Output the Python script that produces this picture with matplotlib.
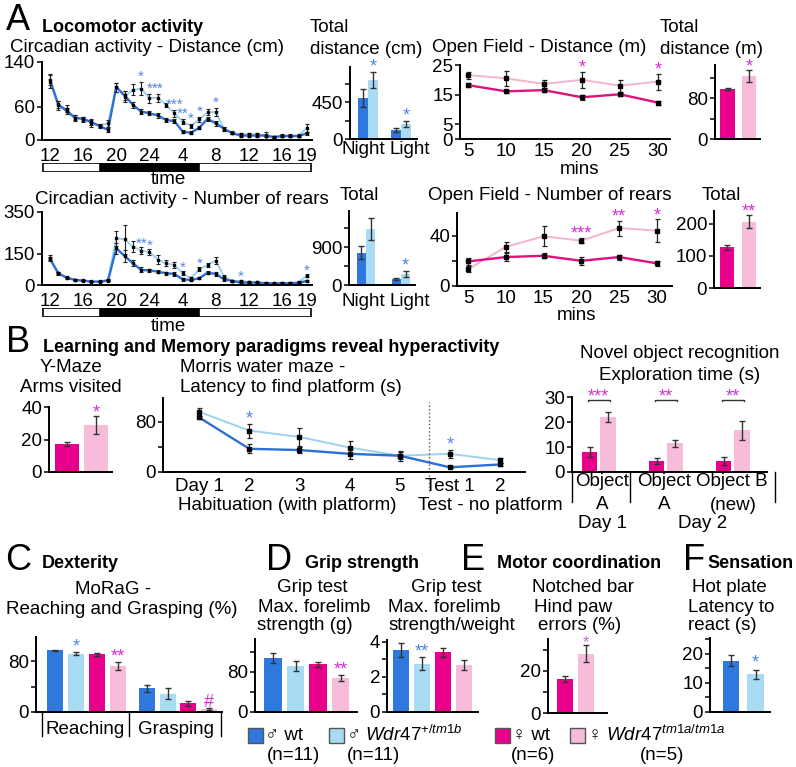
import numpy as np
import matplotlib.pyplot as plt
from matplotlib.patches import Rectangle
from matplotlib.lines import Line2D
from matplotlib.transforms import blended_transform_factory

plt.rcParams['font.family'] = ['Liberation Sans', 'DejaVu Sans']
plt.rcParams['font.size'] = 13.5
plt.rcParams['mathtext.fontset'] = 'custom'
plt.rcParams['mathtext.it'] = 'Liberation Sans:italic'
plt.rcParams['mathtext.rm'] = 'Liberation Sans'

# colours
BLUE, LBLUE = '#2f78dd', '#a9dcf4'
PINK, LPINK = '#e8008a', '#f7bcd9'
LINE_BLUE, LINE_LBLUE = '#2c6fd6', '#9cd2f0'
LINE_PINK, LINE_LPINK = '#e0107f', '#f5b3d3'
SBLUE, SPINK = '#4f86e6', '#d62fd6'

# ---- data: circadian activity (hour 12 .. 19 next day) ----
hours = np.arange(12, 44)
hour_ticks = [12, 16, 20, 24, 28, 32, 36, 40, 43]
hour_labels = ['12', '16', '20', '24', '4', '8', '12', '16', '19']

dist_wt = [108, 64, 52, 40, 38, 32, 25, 18, 95, 80, 63, 51, 48, 44, 36, 34,
           15, 13, 22, 38, 30, 20, 12, 8, 8, 8, 8, 5, 7, 7, 7, 12]
dist_mut = [105, 62, 56, 40, 37, 30, 26, 30, 95, 78, 90, 92, 75, 76, 63, 48,
            33, 25, 37, 50, 50, 20, 13, 10, 10, 10, 8, 6, 8, 8, 8, 22]
dist_wt_err = [10, 6, 5, 4, 4, 5, 3, 3, 8, 8, 6, 5, 4, 4, 4, 4,
               3, 3, 3, 4, 4, 3, 2, 2, 2, 2, 2, 2, 2, 2, 2, 3]
dist_mut_err = [12, 8, 6, 5, 5, 6, 3, 6, 8, 10, 10, 12, 8, 7, 4, 6,
                5, 4, 5, 5, 7, 4, 3, 2, 2, 2, 6, 2, 2, 2, 2, 7]
dist_stars = {23: '*', 24: '*', 25: '**', 27: '***', 28: '**', 29: '*', 30: '*', 32: '*'}

rears_wt = [125, 56, 35, 24, 21, 16, 16, 21, 176, 139, 104, 72, 70, 64, 56, 53,
            27, 24, 32, 59, 53, 27, 19, 12, 12, 12, 8, 8, 8, 8, 10, 20]
rears_mut = [130, 58, 36, 25, 22, 17, 17, 25, 224, 219, 184, 165, 158, 122, 104, 96,
             56, 32, 75, 96, 117, 40, 19, 19, 14, 12, 10, 8, 10, 10, 14, 45]
rears_wt_err = [10, 6, 4, 3, 3, 3, 3, 4, 25, 30, 15, 12, 8, 8, 8, 8,
                6, 4, 4, 8, 8, 6, 4, 3, 3, 3, 2, 2, 2, 2, 2, 4]
rears_mut_err = [12, 6, 4, 3, 3, 3, 3, 5, 35, 70, 25, 15, 15, 20, 15, 15,
                 10, 6, 10, 10, 15, 8, 4, 4, 3, 3, 2, 2, 2, 2, 3, 8]
rears_stars = {23: '**', 24: '*', 28: '*', 30: '*', 35: '*', 43: '*'}

periods = ['Night', 'Light']
tot_dist_wt, tot_dist_mut = [499, 110], [718, 182]
tot_dist_wt_err, tot_dist_mut_err = [115, 20], [100, 35]
tot_dist_stars = ['*', '*']
tot_rears_wt, tot_rears_mut = [765, 142], [1327, 260]
tot_rears_wt_err, tot_rears_mut_err = [150, 25], [260, 80]
tot_rears_stars = ['', '*']

# ---- open field (females) ----
of_mins = [5, 10, 15, 20, 25, 30]
of_dist_wt = [18.2, 16.1, 16.5, 14.1, 15.1, 12.3]
of_dist_wt_err = [0.8, 0.6, 0.6, 0.8, 0.6, 0.7]
of_dist_mut = [21.6, 20.5, 18.6, 20.0, 18.0, 19.4]
of_dist_mut_err = [1.2, 2.5, 1.5, 2.7, 2.0, 2.7]
of_dist_stars = {20: '*', 30: '*'}
of_rears_wt = [19.5, 23, 24, 20, 23, 18]
of_rears_wt_err = [2.5, 3, 2, 3, 2, 2]
of_rears_mut = [13.3, 31, 39.5, 36, 46, 44]
of_rears_mut_err = [2.5, 4, 8, 2, 6, 9]
of_rears_stars = {20: '***', 25: '**', 30: '*'}
of_tot_dist, of_tot_dist_err = [98, 123], [2, 12]
of_tot_rears, of_tot_rears_err = [127, 207], [8, 20]

# ---- learning and memory ----
ymaze, ymaze_err = [17.2, 29], [1.5, 5.5]
mwm_days = [1, 2, 3, 4, 5, 6, 7]
mwm_labels = ['Day 1', '2', '3', '4', '5', 'Test 1', '2']
mwm_wt = [87, 37, 35, 29, 26, 7.5, 12]
mwm_wt_err = [3, 7, 5, 8, 6, 1.5, 3]
mwm_mut = [96, 66, 56, 39, 26, 29, 19]
mwm_mut_err = [6, 11, 14, 10, 8, 6, 4]
mwm_stars = {2: '*', 6: '*'}
nor_wt, nor_wt_err = [8.1, 4.4, 4.4], [2, 1.3, 1.5]
nor_mut, nor_mut_err = [21.9, 11.5, 16.8], [2, 1.3, 3.8]
nor_stars = ['***', '**', '**']

# ---- dexterity / strength / coordination / sensation ----
# order: male wt, male mutant, female wt, female mutant
geno_colors = [BLUE, LBLUE, PINK, LPINK]
morag_groups = ['Reaching', 'Grasping']
morag = [[97, 92, 90.5, 72], [37, 29, 13.6, 4.5]]
morag_err = [[1, 2, 2, 6], [5, 8, 4, 2]]
morag_stars = [['', '*', '', '**'], ['', '', '', '#']]
grip_g, grip_g_err = [109, 92, 95.4, 68.7], [10, 10, 5, 6]
grip_g_stars = ['', '', '', '**']
grip_w, grip_w_err = [3.55, 2.76, 3.4, 2.67], [0.4, 0.35, 0.25, 0.3]
grip_w_stars = ['', '**', '', '']
notch, notch_err = [16, 28], [1.5, 4]
hot, hot_err = [17.7, 13], [2, 1.5]

W, H = 796, 767
fig = plt.figure(figsize=(W / 100, H / 100), dpi=100)


def box(l, t, r, b):
    ax = fig.add_axes([l / W, 1 - b / H, (r - l) / W, (b - t) / H])
    ax.patch.set_alpha(0)
    for s in ['top', 'right']:
        ax.spines[s].set_visible(False)
    for s in ['left', 'bottom']:
        ax.spines[s].set_linewidth(1.4)
    ax.tick_params(length=3.5, width=1.1, pad=1.5)
    return ax


def txt(x, y, s, **kw):
    kw.setdefault('va', 'center')
    fig.text(x / W, 1 - y / H, s, **kw)


def vline(x, y1, y2):
    fig.add_artist(Line2D([x / W, x / W], [1 - y1 / H, 1 - y2 / H], color='k', lw=1))


EKW = dict(ecolor='#333333', elinewidth=1, capsize=2, capthick=1)


def yt(ax, ticks, labels, lim):
    ax.set_ylim(0, lim)
    ax.set_yticks(ticks)
    ax.set_yticklabels(labels)


def line_panel(ax, x, wt, wt_err, mut, mut_err, cw, cm, ms=2.5, elw=0.9, cap=1.8):
    ax.plot(x, mut, color=cm, lw=1.4, zorder=2)
    ax.plot(x, wt, color=cw, lw=1.7, zorder=2)
    for y, e in ((mut, mut_err), (wt, wt_err)):
        ax.errorbar(x, y, yerr=e, fmt='s', ms=ms, color='k', ecolor='#222222',
                    elinewidth=elw, capsize=cap, capthick=elw, zorder=3)


def stars_on(ax, xs, top, err, marks, color, off, fs=13):
    for xi, t, e, m in zip(xs, top, err, marks):
        if m:
            ax.text(xi, t + e + off, m, ha='center', va='center', color=color,
                    fontsize=fs, clip_on=False)


def daybar(l, t, r, b, xlim):
    ax = fig.add_axes([l / W, 1 - b / H, (r - l) / W, (b - t) / H])
    ax.set_xlim(xlim)
    ax.set_ylim(0, 1)
    ax.axis('off')
    ax.add_patch(Rectangle((xlim[0] + 0.1, 0.05), xlim[1] - xlim[0] - 0.2, 0.9,
                           facecolor='white', edgecolor='k', lw=1.2))
    ax.add_patch(Rectangle((18, 0.05), 12, 0.9, facecolor='k', edgecolor='k', lw=1.2))


def circ_panel(l, t, r, b, wt, wt_err, mut, mut_err, stars, ticks, lim, soff):
    ax = box(l, t, r, b)
    xlim = (11.04, 43.6)
    ax.set_xlim(xlim)
    line_panel(ax, hours, wt, wt_err, mut, mut_err, LINE_BLUE, LINE_LBLUE,
               ms=1.8, elw=0.8, cap=1.5)
    yt(ax, ticks, [str(v) for v in ticks], lim)
    ax.set_xticks(hour_ticks)
    ax.set_xticklabels(hour_labels)
    ax.tick_params(axis='x', length=0, pad=6)
    idx = [list(hours).index(h) for h in stars]
    stars_on(ax, list(stars), [mut[i] for i in idx], [mut_err[i] for i in idx],
             list(stars.values()), SBLUE, soff, fs=11)
    return xlim


def pair_bars(ax, x, wt, wt_err, mut, mut_err, cw, cm, w):
    x = np.asarray(x, float)
    ax.bar(x - w / 2, wt, w, color=cw, yerr=wt_err, error_kw=EKW)
    ax.bar(x + w / 2, mut, w, color=cm, yerr=mut_err, error_kw=EKW)


# ================= A =================
txt(6, 21, 'A', fontsize=26)
txt(42, 28, 'Locomotor activity', fontweight='bold', fontsize=13)
txt(10, 47, 'Circadian activity - Distance (cm)')
xl = circ_panel(42, 62, 312, 140, dist_wt, dist_wt_err, dist_mut, dist_mut_err,
                dist_stars, [0, 60, 140], 140, 9)
daybar(42, 163, 312, 172, xl)
txt(168, 179, 'time', ha='center')

txt(310, 28, 'Total')
txt(310, 50, 'distance (cm)')
ax = box(350, 67, 417, 139)
pair_bars(ax, [0, 1], tot_dist_wt, tot_dist_wt_err, tot_dist_mut, tot_dist_mut_err, BLUE, LBLUE, 0.29)
ax.set_xlim(-0.545, 1.485)
yt(ax, [0, 225, 450, 675], ['0', '', '450', ''], 876)
ax.set_xticks([])
stars_on(ax, [0.145, 1.145], tot_dist_mut, tot_dist_mut_err, tot_dist_stars, SBLUE, 60)
txt(363, 150, periods[0], ha='center')
txt(410, 150, periods[1], ha='center')

txt(432, 48, 'Open Field - Distance (m)')
ax = box(460, 65, 670, 139)
line_panel(ax, of_mins, of_dist_wt, of_dist_wt_err, of_dist_mut, of_dist_mut_err, LINE_PINK, LINE_LPINK)
ax.set_xlim(3.95, 31.6)
yt(ax, [0, 5, 15, 25], ['0', '5', '15', '25'], 25)
ax.set_xticks(of_mins)
ax.tick_params(axis='x', length=0, pad=3)
stars_on(ax, list(of_dist_stars), [of_dist_mut[of_mins.index(m)] for m in of_dist_stars],
         [of_dist_mut_err[of_mins.index(m)] for m in of_dist_stars], list(of_dist_stars.values()), SPINK, 1.3)
txt(580, 170, 'mins', ha='center')

txt(660, 27, 'Total')
txt(660, 50, 'distance (m)')
ax = box(715, 65, 760, 139)
ax.bar([0, 1], of_tot_dist, 0.64, color=[PINK, LPINK], yerr=of_tot_dist_err, error_kw=EKW)
ax.set_xlim(-0.57, 1.48)
yt(ax, [0, 40, 80, 120], ['0', '', '80', ''], 145)
ax.set_xticks([])
stars_on(ax, [1], [of_tot_dist[1]], [of_tot_dist_err[1]], ['*'], SPINK, 7)

# second row
txt(35, 199, 'Circadian activity - Number of rears')
xl = circ_panel(42, 212, 312, 285, rears_wt, rears_wt_err, rears_mut, rears_mut_err,
                rears_stars, [0, 150, 350], 350, 16)
daybar(42, 308, 312, 317, xl)
txt(168, 327, 'time', ha='center')

txt(340, 196, 'Total')
ax = box(349, 211, 415, 285)
pair_bars(ax, [0, 1], tot_rears_wt, tot_rears_wt_err, tot_rears_mut, tot_rears_mut_err, BLUE, LBLUE, 0.26)
ax.set_xlim(-0.486, 1.4)
yt(ax, [0, 450, 900, 1350], ['0', '', '900', ''], 1753)
ax.set_xticks([])
stars_on(ax, [0.13, 1.13], tot_rears_mut, tot_rears_mut_err, tot_rears_stars, SBLUE, 120)
txt(363, 302, periods[0], ha='center')
txt(410, 302, periods[1], ha='center')

txt(428, 196, 'Open Field - Number of rears')
ax = box(457, 213, 672, 286)
line_panel(ax, of_mins, of_rears_wt, of_rears_wt_err, of_rears_mut, of_rears_mut_err, LINE_PINK, LINE_LPINK)
ax.set_xlim(3.55, 32)
yt(ax, [0, 20, 40], ['0', '', '40'], 58)
ax.set_xticks(of_mins)
ax.tick_params(axis='x', length=0, pad=3)
stars_on(ax, list(of_rears_stars), [of_rears_mut[of_mins.index(m)] for m in of_rears_stars],
         [of_rears_mut_err[of_mins.index(m)] for m in of_rears_stars], list(of_rears_stars.values()), SPINK, 3)
txt(577, 316, 'mins', ha='center')

txt(702, 196, 'Total')
ax = box(714, 211, 760, 288)
ax.bar([0, 1], of_tot_rears, 0.64, color=[PINK, LPINK], yerr=of_tot_rears_err, error_kw=EKW)
ax.set_xlim(-0.57, 1.48)
yt(ax, [0, 100, 200], ['0', '100', '200'], 240)
ax.set_xticks([])
stars_on(ax, [1], [of_tot_rears[1]], [of_tot_rears_err[1]], ['**'], SPINK, 10)

# ================= B =================
txt(6, 342, 'B', fontsize=26)
txt(43, 347, 'Learning and Memory paradigms reveal hyperactivity', fontweight='bold', fontsize=13)

txt(71, 368, 'Y-Maze', ha='center')
txt(71, 388, 'Arms visited', ha='center')
ax = box(49, 407, 112, 472)
ax.bar([0, 1], ymaze, 0.8, color=[PINK, LPINK], yerr=ymaze_err, error_kw=EKW)
ax.set_xlim(-0.62, 1.55)
yt(ax, [0, 20, 40], ['0', '20', '40'], 40)
ax.set_xticks([])
stars_on(ax, [1], [ymaze[1]], [ymaze_err[1]], ['*'], SPINK, 2)

txt(180, 368, 'Morris water maze -')
txt(180, 388, 'Latency to find platform (s)')
ax = box(163, 398, 525, 472)
line_panel(ax, mwm_days, mwm_wt, mwm_wt_err, mwm_mut, mwm_mut_err, LINE_BLUE, LINE_LBLUE)
ax.set_xlim(0.28, 7.5)
yt(ax, [0, 40, 80], ['0', '', '80'], 118)
ax.set_xticks(mwm_days)
ax.set_xticklabels(mwm_labels)
ax.tick_params(axis='x', length=0, pad=4)
tr = blended_transform_factory(ax.transData, ax.transAxes)
ax.plot([5.58, 5.58], [-0.25, 0.95], transform=tr, ls=':', color='#555555', lw=1, clip_on=False)
stars_on(ax, list(mwm_stars), [mwm_mut[d - 1] for d in mwm_stars],
         [mwm_mut_err[d - 1] for d in mwm_stars], list(mwm_stars.values()), SBLUE, 8)
txt(287, 505, 'Habituation (with platform)', ha='center')
txt(490, 505, 'Test - no platform', ha='center')

txt(680, 353, 'Novel object recognition', ha='center')
txt(680, 376, 'Exploration time (s)', ha='center')
ax = box(572, 397, 767, 472)
xg = np.arange(3)
ax.bar(xg - 0.138, nor_wt, 0.23, color=PINK, yerr=nor_wt_err, error_kw=EKW)
ax.bar(xg + 0.138, nor_mut, 0.23, color=LPINK, yerr=nor_mut_err, error_kw=EKW)
ax.set_xlim(-0.40, 2.51)
yt(ax, [0, 10, 20, 30], ['0', '10', '20', '30'], 30)
ax.set_xticks([])
for g, s in zip(xg, nor_stars):
    ax.plot([g - 0.16, g - 0.16, g + 0.16, g + 0.16], [28.3, 29, 29, 28.3], color='#333333',
            lw=1, clip_on=False)
    ax.text(g, 30.2, s, ha='center', va='center', color=SPINK, fontsize=13, clip_on=False)
for xv in (572, 630, 775):
    vline(xv, 472, 502)
txt(602, 482, 'Object', ha='center')
txt(602, 505, 'A', ha='center')
txt(664, 482, 'Object', ha='center')
txt(664, 505, 'A', ha='center')
txt(732, 482, 'Object B', ha='center')
txt(733, 505, '(new)', ha='center')
txt(603, 523, 'Day 1', ha='center')
txt(703, 523, 'Day 2', ha='center')

# ================= C =================
txt(5, 561, 'C', fontsize=26)
txt(42, 564, 'Dexterity', fontweight='bold', fontsize=13)
txt(113, 590, 'MoRaG -', ha='center')
txt(122, 609, 'Reaching and Grasping (%)', ha='center')
ax = box(36, 637, 222, 712)
offs = np.array([-1.5, -0.5, 0.5, 1.5]) * 0.228
scol = [SBLUE, SBLUE, SPINK, SPINK]
for gi in range(2):
    ax.bar(gi + offs, morag[gi], 0.174, color=geno_colors, yerr=morag_err[gi], error_kw=EKW)
    for k in range(4):
        if morag_stars[gi][k]:
            ax.text(gi + offs[k], morag[gi][k] + morag_err[gi][k] + 9, morag_stars[gi][k],
                    ha='center', va='center', color=scol[k], fontsize=13)
ax.set_xlim(-0.55, 1.48)
yt(ax, [0, 40, 80], ['0', '', '80'], 118)
ax.set_xticks([])
for xv in (42, 129, 221):
    vline(xv, 712, 736)
txt(85, 730, morag_groups[0], ha='center')
txt(176, 730, morag_groups[1], ha='center')

# ================= D =================
txt(266, 561, 'D', fontsize=26)
txt(305, 564, 'Grip strength', fontweight='bold', fontsize=13)
txt(312, 587, 'Grip test', ha='center')
txt(314, 607, 'Max. forelimb', ha='center')
txt(305, 626, 'strength (g)', ha='center')
ax = box(255, 639, 357, 712)
x4 = np.arange(4)
ax.bar(x4, grip_g, 0.76, color=geno_colors, yerr=grip_g_err, error_kw=EKW)
ax.set_xlim(-0.8, 3.73)
yt(ax, [0, 40, 80, 120], ['0', '', '80', ''], 146)
ax.set_xticks([])
stars_on(ax, x4, grip_g, grip_g_err, grip_g_stars, SPINK, 9)

txt(446, 587, 'Grip test', ha='center')
txt(444, 607, 'Max. forelimb', ha='center')
txt(452, 626, 'strength/weight', ha='center')
ax = box(387, 640, 478, 712)
ax.bar(x4, grip_w, 0.8, color=geno_colors, yerr=grip_w_err, error_kw=EKW)
ax.set_xlim(-0.67, 3.67)
yt(ax, [0, 1, 2, 3, 4], ['0', '', '2', '', '4'], 4.1)
ax.set_xticks([])
stars_on(ax, x4, grip_w, grip_w_err, grip_w_stars, SBLUE, 0.3)

# ================= E =================
txt(461, 561, 'E', fontsize=26)
txt(497, 564, 'Motor coordination', fontweight='bold', fontsize=13)
txt(583, 587, 'Notched bar', ha='center')
txt(573, 607, 'Hind paw', ha='center')
txt(580, 625, 'errors (%)', ha='center')
ax = box(548, 639, 607, 713)
ax.bar([0, 1], notch, 0.76, color=[PINK, LPINK], yerr=notch_err, error_kw=EKW)
ax.set_xlim(-0.81, 2.0)
yt(ax, [0, 10, 20, 30], ['0', '', '20', ''], 35)
ax.set_xticks([])
stars_on(ax, [1], [notch[1]], [notch_err[1]], ['*'], '#cc66dd', 1.2, fs=12)

# ================= F =================
txt(683, 561, 'F', fontsize=26)
txt(707, 564, 'Sensation', fontweight='bold', fontsize=13)
txt(692, 587, 'Hot plate')
txt(688, 607, 'Latency to')
txt(688, 626, 'react (s)')
ax = box(710, 638, 770, 712)
ax.bar([0, 1], hot, 0.67, color=[BLUE, LBLUE], yerr=hot_err, error_kw=EKW)
ax.set_xlim(-0.86, 1.59)
yt(ax, [0, 5, 10, 15, 20, 25], ['0', '', '10', '', '20', ''], 25.5)
ax.set_xticks([])
stars_on(ax, [1], [hot[1]], [hot_err[1]], ['*'], SBLUE, 2.5)

# ================= legend =================
legend_items = [
    (248, BLUE, '\u2642 wt', '(n=11)', 294),
    (329, LBLUE, '\u2642 $\\mathit{Wdr47}^{+/tm1b}$', '(n=11)', 373),
    (495, PINK, '\u2640 wt', '(n=6)', 533),
    (570, LPINK, '\u2640 $\\mathit{Wdr47}^{tm1a/tm1a}$', '(n=5)', 662),
]
for x0, col, lab, n, nx in legend_items:
    fig.add_artist(Rectangle((x0 / W, 1 - 743 / H), 15 / W, 15 / H, transform=fig.transFigure,
                             facecolor=col, edgecolor='#555555', lw=1))
    txt(x0 + 17, 735, lab)
    txt(nx, 755, n, ha='center')

fig.savefig('out.png', dpi=100)
